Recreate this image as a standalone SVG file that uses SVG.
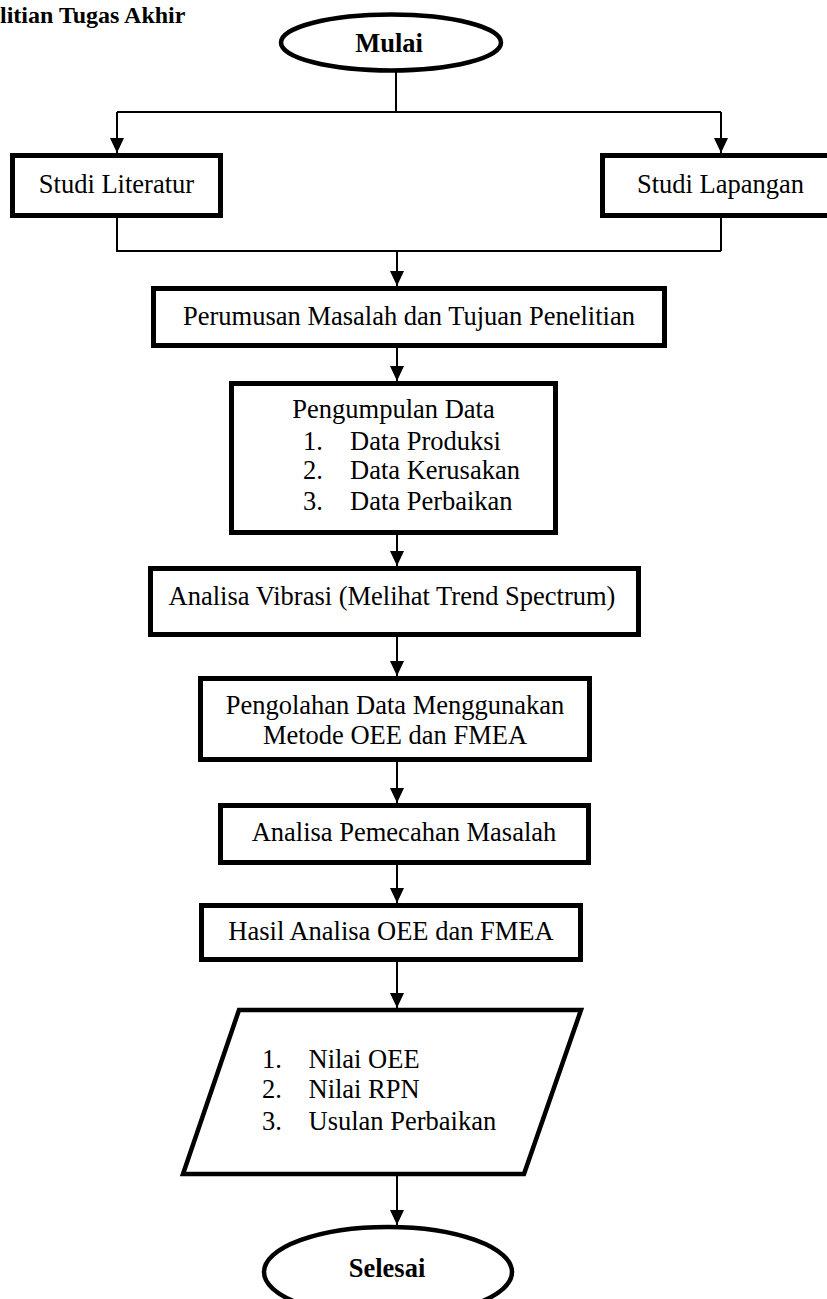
<svg xmlns="http://www.w3.org/2000/svg" width="827" height="1299" viewBox="0 0 827 1299">
<style>
text{font-family:"Liberation Serif","Times New Roman",serif;font-size:26.5px;fill:#000}
.b{font-weight:bold}
.c{text-anchor:middle}
.box{fill:#fff;stroke:#000;stroke-width:5}
.term{fill:#fff;stroke:#000;stroke-width:4.5}
.ln{fill:none;stroke:#000;stroke-width:2}
</style>
<defs>
<marker id="ah" viewBox="0 0 15 14" refX="15" refY="7" markerWidth="15" markerHeight="14" markerUnits="userSpaceOnUse" orient="auto">
<path d="M0,0 L15,7 L0,14 Z" fill="#000"/>
</marker>
</defs>
<rect width="827" height="1299" fill="#fff"/>
<text id="title" class="b" x="0" y="23" style="font-size:24px">litian Tugas Akhir</text>
<g id="connectors">
<path class="ln" d="M396,72 V112 M117,112 H721"/>
<path class="ln" d="M117,112 V153" marker-end="url(#ah)"/>
<path class="ln" d="M721,112 V153" marker-end="url(#ah)"/>
<path class="ln" d="M117,218 V251 H721 M721,218 V251"/>
<path class="ln" d="M397,251 V286" marker-end="url(#ah)"/>
<path class="ln" d="M397,348 V381" marker-end="url(#ah)"/>
<path class="ln" d="M397,535 V566" marker-end="url(#ah)"/>
<path class="ln" d="M397,637 V676" marker-end="url(#ah)"/>
<path class="ln" d="M397,762 V803" marker-end="url(#ah)"/>
<path class="ln" d="M397,865 V903" marker-end="url(#ah)"/>
<path class="ln" d="M397,962 V1008" marker-end="url(#ah)"/>
<path class="ln" d="M397,1176 V1225" marker-end="url(#ah)"/>
</g>
<g id="mulai">
<ellipse class="term" cx="391" cy="42.5" rx="110" ry="28"/>
<text class="b c" x="389" y="52">Mulai</text>
</g>
<g id="studi-literatur">
<rect class="box" x="12.5" y="155.5" width="208" height="60"/>
<text class="c" x="116.5" y="193">Studi Literatur</text>
</g>
<g id="studi-lapangan">
<rect class="box" x="602.5" y="155.5" width="240" height="60"/>
<text class="c" x="720.5" y="193">Studi Lapangan</text>
</g>
<g id="perumusan">
<rect class="box" x="153.5" y="288.5" width="511" height="57"/>
<text class="c" x="409" y="325">Perumusan Masalah dan Tujuan Penelitian</text>
</g>
<g id="pengumpulan">
<rect class="box" x="231.5" y="383.5" width="324" height="149"/>
<text class="c" x="393.5" y="418">Pengumpulan Data</text>
<text x="303" y="450">1.</text><text x="350" y="450">Data Produksi</text>
<text x="303" y="479">2.</text><text x="350" y="479">Data Kerusakan</text>
<text x="303" y="510">3.</text><text x="350" y="510">Data Perbaikan</text>
</g>
<g id="analisa-vibrasi">
<rect class="box" x="150.5" y="568.5" width="488" height="66"/>
<text class="c" x="392" y="605">Analisa Vibrasi (Melihat Trend Spectrum)</text>
</g>
<g id="pengolahan">
<rect class="box" x="200.5" y="678.5" width="389" height="81"/>
<text class="c" x="395" y="714">Pengolahan Data Menggunakan</text>
<text class="c" x="395" y="744">Metode OEE dan FMEA</text>
</g>
<g id="pemecahan">
<rect class="box" x="220.5" y="805.5" width="368" height="57"/>
<text class="c" x="404" y="841">Analisa Pemecahan Masalah</text>
</g>
<g id="hasil">
<rect class="box" x="201.5" y="905.5" width="379" height="54"/>
<text class="c" x="391" y="940">Hasil Analisa OEE dan FMEA</text>
</g>
<g id="output">
<polygon class="term" points="239,1010 581,1010 524,1174 183,1174"/>
<text x="262" y="1068">1.</text><text x="308.5" y="1068">Nilai OEE</text>
<text x="262" y="1098">2.</text><text x="308.5" y="1098">Nilai RPN</text>
<text x="262" y="1130">3.</text><text x="308.5" y="1130">Usulan Perbaikan</text>
</g>
<g id="selesai">
<ellipse class="term" cx="388" cy="1272" rx="124" ry="45"/>
<text class="b c" x="387" y="1277">Selesai</text>
</g>
</svg>
